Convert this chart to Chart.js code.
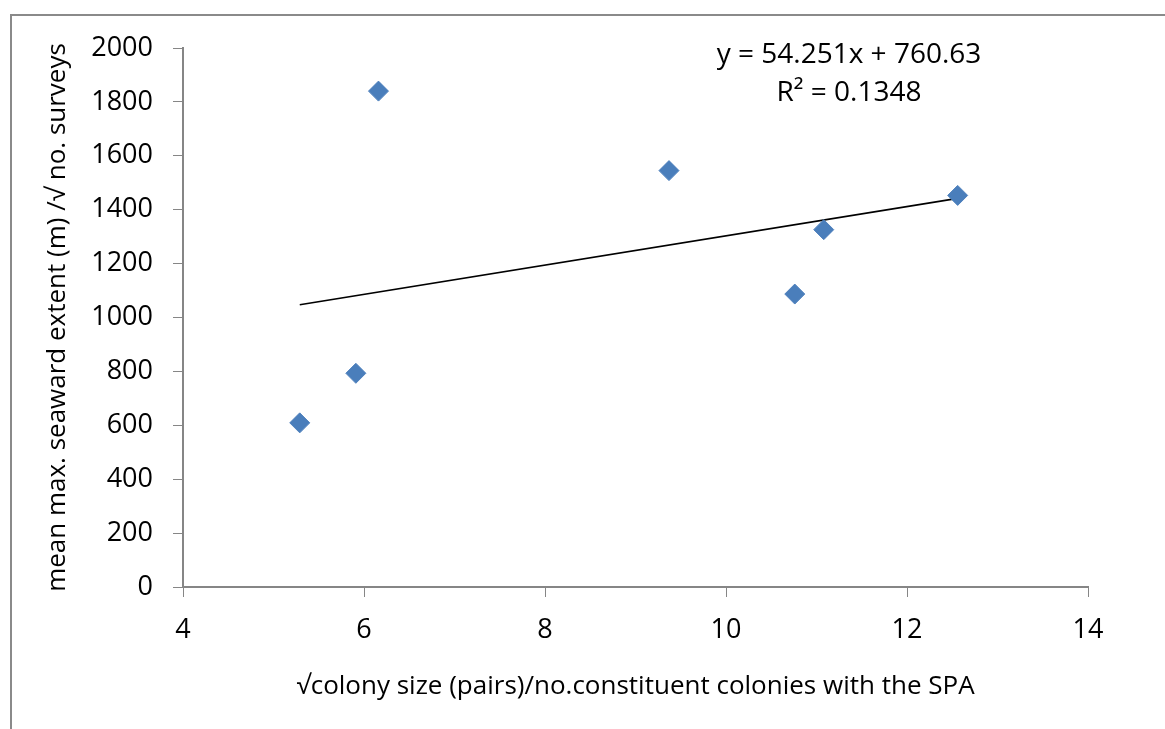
<!DOCTYPE html>
<html>
<head>
<meta charset="utf-8">
<script src="https://cdn.jsdelivr.net/npm/chart.js@4/dist/chart.umd.min.js"></script>
<style>
  html, body { margin: 0; padding: 0; background: #fff; overflow: hidden; }
  #frame { position: absolute; left: 10px; top: 14px; width: 1200px; height: 800px;
           border-left: 2px solid #8a8a8a; border-top: 2px solid #8a8a8a; }
  #wrap { position: absolute; left: 0; top: 0; width: 1165px; height: 729px; }
</style>
</head>
<body>
<div id="frame"></div>
<div id="wrap"><canvas id="myChart" width="1165" height="729"></canvas></div>
<script>
// colony size vs seaward extent
var colonySize = [5.29, 5.91, 6.16, 9.37, 10.76, 11.08, 12.56];
var seawardExtent = [609, 793, 1840, 1545, 1087, 1326, 1453];
var xTicks = [4, 6, 8, 10, 12, 14];
var yTicks = [0, 200, 400, 600, 800, 1000, 1200, 1400, 1600, 1800, 2000];
var slope = 54.251;
var intercept = 760.63;
var eqText = ["y = 54.251x + 760.63", "R\u00b2 = 0.1348"];

var puntos = colonySize.map(function (x, i) { return { x: x, y: seawardExtent[i] }; });
var xMin = Math.min.apply(null, colonySize);
var xMax = Math.max.apply(null, colonySize);
var tendencia = [
    { x: xMin, y: slope * xMin + intercept },
    { x: xMax, y: slope * xMax + intercept }
];

var fuente = "'Open Sans', 'Liberation Sans', sans-serif";

var ecuacion = {
    id: 'ecuacion',
    afterDraw: function (chart) {
        var ctx = chart.ctx;
        ctx.save();
        ctx.fillStyle = '#000';
        ctx.font = '28px ' + fuente;
        ctx.textAlign = 'center';
        ctx.textBaseline = 'middle';
        ctx.fillText(eqText[0], 849, 55);
        ctx.fillText(eqText[1], 849, 93);
        ctx.restore();
    }
};

var canvas = document.getElementById('myChart').getContext("2d");
window.scatter = new Chart(canvas, {
    type: "scatter",
    data: {
        datasets: [{
                label: "datos",
                data: puntos,
                pointStyle: 'rectRot',
                pointRadius: 10,
                pointHoverRadius: 10,
                backgroundColor: "#4a7ebb",
                borderColor: "#4f81bd",
                borderWidth: 1
            },
            {
                label: "tendencia",
                type: "line",
                data: tendencia,
                borderColor: "#000",
                borderWidth: 1.6,
                pointRadius: 0,
                fill: false
            }
        ]
    },
    options: {
        responsive: false,
        animation: false,
        layout: { padding: { left: 0, top: 48, right: 77, bottom: 0 } },
        plugins: {
            legend: { display: false },
            tooltip: { enabled: false }
        },
        scales: {
            x: {
                type: 'linear',
                min: 4,
                max: 14,
                afterBuildTicks: function (axis) { axis.ticks = xTicks.map(function (v) { return { value: v }; }); },
                afterFit: function (axis) { axis.height = 142; },
                grid: { drawOnChartArea: false, tickLength: 10, color: '#868686' },
                border: { color: '#868686', width: 2 },
                ticks: {
                    color: '#000', padding: 17, font: { size: 27, family: fuente },
                    callback: function (v) { return String(v); }
                },
                title: {
                    display: true,
                    text: "\u221acolony size (pairs)/no.constituent colonies with the SPA",
                    color: '#000',
                    font: { size: 26, family: fuente },
                    padding: { top: 0, bottom: 27 }
                }
            },
            y: {
                type: 'linear',
                min: 0,
                max: 2000,
                afterBuildTicks: function (axis) { axis.ticks = yTicks.map(function (v) { return { value: v }; }); },
                afterFit: function (axis) { axis.width = 183; },
                grid: { drawOnChartArea: false, tickLength: 10, color: '#868686' },
                border: { color: '#868686', width: 2 },
                ticks: {
                    color: '#000', padding: 20, font: { size: 27, family: fuente },
                    callback: function (v) { return String(v); }
                },
                title: {
                    display: true,
                    text: "mean max. seaward extent (m) /\u221a no. surveys",
                    color: '#000',
                    font: { size: 26, family: fuente },
                    padding: { top: 42, bottom: 0 }
                }
            }
        }
    },
    plugins: [ecuacion]
});
</script>
</body>
</html>
